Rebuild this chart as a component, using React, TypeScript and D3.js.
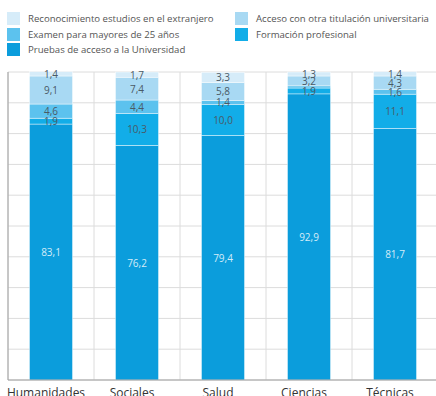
import React from "react";
import * as d3 from "d3";

const categories = ["Humanidades", "Sociales", "Salud", "Ciencias", "Técnicas"];
const seriesNames = [
  "Pruebas de acceso a la Universidad",
  "Formación profesional",
  "Examen para mayores de 25 años",
  "Acceso con otra titulación universitaria",
  "Reconocimiento estudios en el extranjero",
];
const pruebas = [83.1, 76.2, 79.4, 92.9, 81.7];
const formacion = [1.9, 10.3, 10.0, 1.9, 11.1];
const examen = [4.6, 4.4, 1.4, 0.7, 1.6];
const acceso = [9.1, 7.4, 5.8, 3.2, 4.3];
const reconocimiento = [1.4, 1.7, 3.3, 1.3, 1.4];
const showLabel = [
  [true, true, true, true, true],
  [true, true, true, true, true],
  [true, true, true, false, true],
  [true, true, true, true, true],
  [true, true, true, true, true],
];
const yTicks = [0, 10, 20, 30, 40, 50, 60, 70, 80, 90, 100];

const colors = ["#0b9ddc", "#12ade8", "#5cc2ee", "#a8d9f3", "#d6ecf9"];
const labelColors = ["#d4ecf8", "#4a5a66", "#4a5a66", "#4a5a66", "#4a5a66"];

const W = 436;
const H = 396;
const FONT = "'Open Sans', 'Noto Sans', sans-serif";

export default function App() {
  const values = [pruebas, formacion, examen, acceso, reconocimiento];
  const data = categories.map((c, i) => {
    const row: any = { cat: c };
    seriesNames.forEach((s, j) => (row[s] = values[j][i]));
    return row;
  });
  const stack = d3.stack<any>().keys(seriesNames)(data);

  const x = d3
    .scaleBand<string>()
    .domain(categories)
    .range([8, 438])
    .paddingInner(0.5)
    .paddingOuter(0.25);
  const y = d3.scaleLinear().domain([0, 100]).range([380, 72]);
  const step = x.step();
  const left = 8;

  const legendItems = [
    { name: seriesNames[4], color: colors[4], x: 7, y: 12 },
    { name: seriesNames[3], color: colors[3], x: 235, y: 12 },
    { name: seriesNames[2], color: colors[2], x: 7, y: 28 },
    { name: seriesNames[1], color: colors[1], x: 235, y: 28 },
    { name: seriesNames[0], color: colors[0], x: 7, y: 43 },
  ];

  return (
    <svg
      width={W}
      height={H}
      style={{ position: "absolute", left: 0, top: 0, background: "#fff" }}
      fontFamily={FONT}
    >
      {/* legend */}
      {legendItems.map((l) => (
        <g key={l.name}>
          <rect x={l.x} y={l.y} width={13} height={13} fill={l.color} />
          <text
            x={l.x + 21}
            y={l.y + 6.5}
            dominantBaseline="central"
            fontSize={9.6}
            fill="#555"
          >
            {l.name}
          </text>
        </g>
      ))}

      {/* horizontal gridlines */}
      {yTicks.map((t) => (
        <line
          key={"h" + t}
          x1={left}
          x2={W}
          y1={y(t)}
          y2={y(t)}
          stroke="#dcdcdc"
          strokeWidth={1}
        />
      ))}
      {/* vertical gridlines */}
      {d3.range(categories.length + 1).map((i) => (
        <line
          key={"v" + i}
          x1={left + i * step}
          x2={left + i * step}
          y1={y(100)}
          y2={y(0)}
          stroke="#dcdcdc"
          strokeWidth={1}
        />
      ))}

      {/* bars */}
      {stack.map((layer, si) => (
        <g key={layer.key}>
          {layer.map((d, ci) => (
            <rect
              key={ci}
              x={x(categories[ci])}
              y={y(d[1])}
              width={x.bandwidth()}
              height={y(d[0]) - y(d[1])}
              fill={colors[si]}
              stroke="#ffffff"
              strokeOpacity={0.7}
              strokeWidth={0.6}
            />
          ))}
        </g>
      ))}

      {/* value labels */}
      {stack.map((layer, si) => (
        <g key={"l" + layer.key}>
          {layer.map((d, ci) =>
            showLabel[si][ci] ? (
              <text
                key={ci}
                x={(x(categories[ci]) as number) + x.bandwidth() / 2}
                y={(y(d[0]) + y(d[1])) / 2}
                textAnchor="middle"
                dominantBaseline="central"
                fontSize={10}
                fill={labelColors[si]}
              >
                {d3.format(".1f")(d[1] - d[0]).replace(".", ",")}
              </text>
            ) : null
          )}
        </g>
      ))}

      {/* axes */}
      <line x1={left} x2={left} y1={y(100)} y2={y(0)} stroke="#a0a0a0" />
      <line x1={left} x2={W} y1={y(0)} y2={y(0)} stroke="#a0a0a0" />

      {categories.map((c) => (
        <text
          key={c}
          x={(x(c) as number) + x.bandwidth() / 2 - 5}
          y={397}
          textAnchor="middle"
          fontSize={12}
          fill="#333"
        >
          {c}
        </text>
      ))}
    </svg>
  );
}
